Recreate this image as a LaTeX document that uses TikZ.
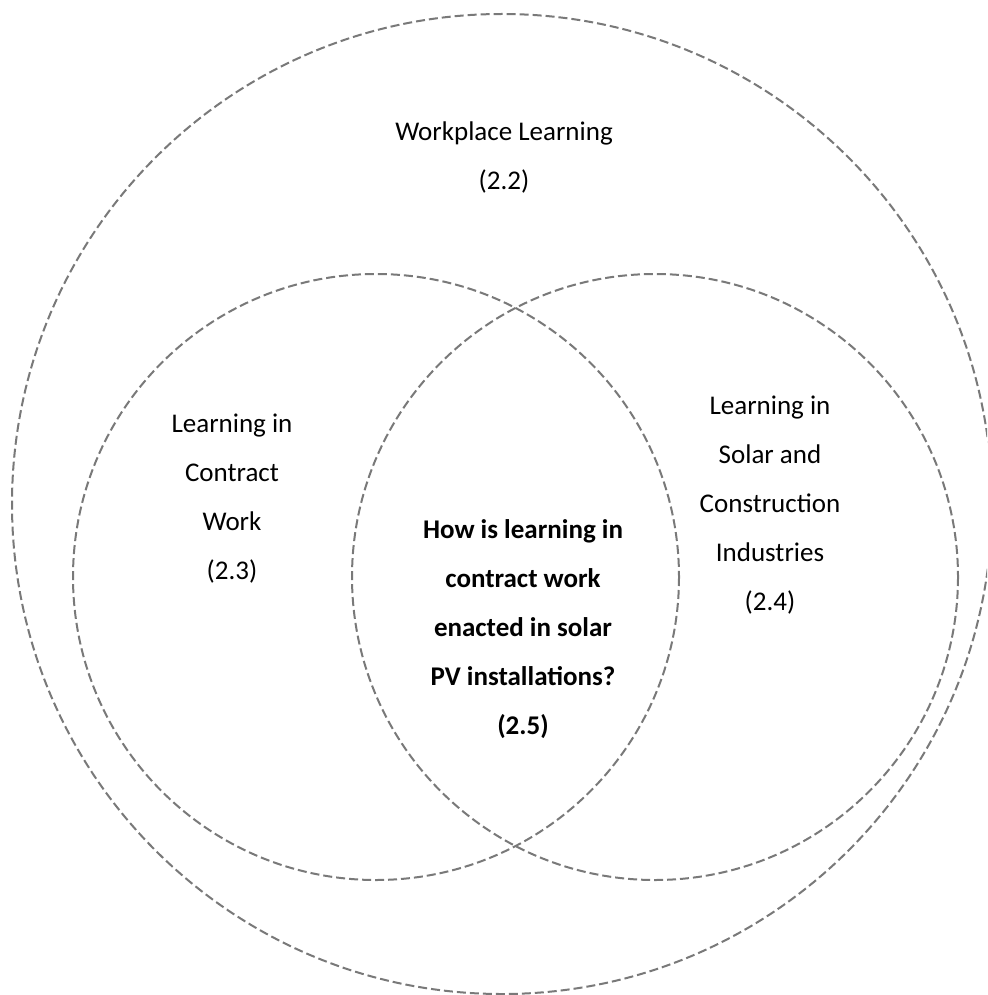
\documentclass[tikz,border=0pt]{standalone}
\usepackage{fontspec}
\setmainfont{Carlito}
\begin{document}
\begin{tikzpicture}[x=1pt,y=-1pt,
  ring/.style={draw=gray!95!black, line width=2pt, dash pattern=on 9pt off 4pt},
  lbl/.style={align=center, inner sep=0pt, font=\fontsize{27}{49}\selectfont},
  qlbl/.style={lbl, font=\fontsize{27}{49}\selectfont\bfseries}]
\useasboundingbox (0,0) rectangle (987,995);
\clip (0,0) rectangle (987,995);
\fill[white] (0,0) rectangle (987,995);
\draw[ring] (502,504) circle[radius=490];
\draw[ring] (376,577) circle[radius=303];
\draw[ring] (655,577) circle[radius=303];
\node[lbl] (wl) at (504,157) {Workplace Learning\\(2.2)};
\node[lbl] (cw) at (232,499) {Learning in\\Contract\\Work\\(2.3)};
\node[lbl] (sc) at (770,505) {Learning in\\Solar and\\Construction\\Industries\\(2.4)};
\node[qlbl] (q) at (523,629) {How is learning in\\contract work\\enacted in solar\\PV installations?\\(2.5)};
\end{tikzpicture}
\end{document}
